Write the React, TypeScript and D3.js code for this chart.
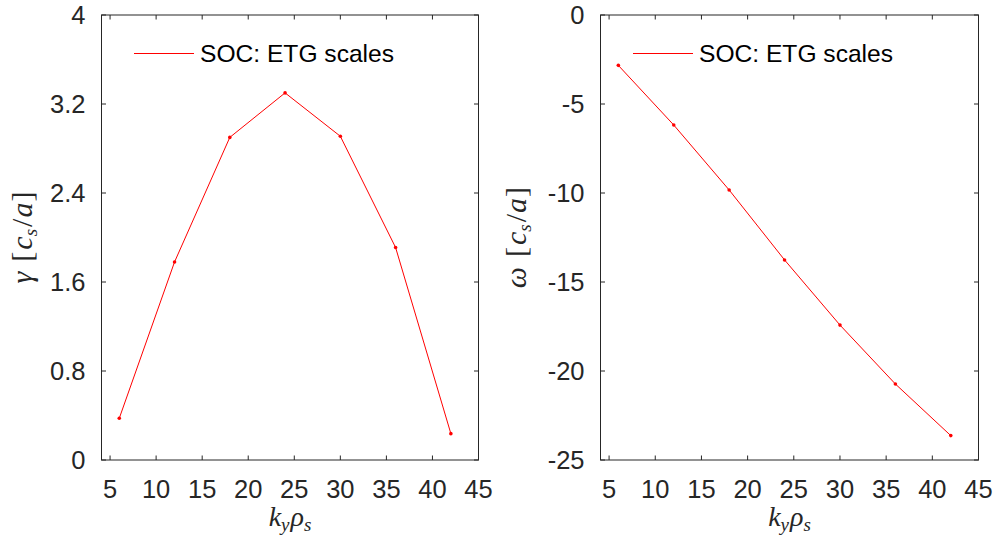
import React from "react";
import * as d3 from "d3";

const kyRho = [6, 12, 18, 24, 30, 36, 42];
const gamma = [0.375, 1.78, 2.9, 3.3, 2.91, 1.91, 0.237];
const omega = [-2.83, -6.18, -9.83, -13.76, -17.42, -20.73, -23.63];
const xTicks = [5, 10, 15, 20, 25, 30, 35, 40, 45];
const gammaTicks = [0, 0.8, 1.6, 2.4, 3.2, 4];
const omegaTicks = [-25, -20, -15, -10, -5, 0];
const legendLabel = "SOC: ETG scales";

const W = 995;
const H = 540;
const TOP = 15;
const BOTTOM = 460;
const AXIS_COLOR = "#262626";
const FONT = "'Liberation Sans', Arial, Helvetica, sans-serif";
const MATH = "'Liberation Serif', 'DejaVu Serif', serif";

type PanelProps = {
  left: number;
  right: number;
  values: number[];
  yDomain: [number, number];
  yTicks: number[];
  yFmt: (v: number) => string;
  ySymbol: string;
  yLabelX: number;
  legendX: number;
};

function Panel({ left, right, values, yDomain, yTicks, yFmt, ySymbol, yLabelX, legendX }: PanelProps) {
  const x = d3.scaleLinear().domain([4.07, 45]).range([left, right]);
  const y = d3.scaleLinear().domain(yDomain).range([BOTTOM, TOP]);
  const pts = kyRho.map((k, i) => [x(k), y(values[i])] as [number, number]);
  const line = d3.line()(pts) || "";
  const tl = 4.5;
  const midY = (TOP + BOTTOM) / 2;
  const midX = (left + right) / 2;
  return (
    <g>
      <rect x={left} y={TOP} width={right - left} height={BOTTOM - TOP} fill="white" stroke={AXIS_COLOR} strokeWidth={1} />
      {xTicks.map((t) => (
        <g key={"x" + t}>
          <line x1={x(t)} x2={x(t)} y1={BOTTOM} y2={BOTTOM - tl} stroke={AXIS_COLOR} />
          <line x1={x(t)} x2={x(t)} y1={TOP} y2={TOP + tl} stroke={AXIS_COLOR} />
          <text x={x(t)} y={497.5} textAnchor="middle" fontFamily={FONT} fontSize={25.5} fill="#262626">
            {t}
          </text>
        </g>
      ))}
      {yTicks.map((t) => (
        <g key={"y" + t}>
          <line x1={left} x2={left + tl} y1={y(t)} y2={y(t)} stroke={AXIS_COLOR} />
          <line x1={right} x2={right - tl} y1={y(t)} y2={y(t)} stroke={AXIS_COLOR} />
          <text x={left - 16} y={y(t)} dy="0.36em" textAnchor="end" fontFamily={FONT} fontSize={25.5} fill="#262626">
            {yFmt(t)}
          </text>
        </g>
      ))}
      <path d={line} fill="none" stroke="#ff0000" strokeWidth={1} />
      {pts.map((p, i) => (
        <circle key={i} cx={p[0]} cy={p[1]} r={1.8} fill="#ff0000" />
      ))}
      <line x1={legendX} x2={legendX + 60} y1={53.5} y2={53.5} stroke="#ff0000" strokeWidth={1} />
      <text x={legendX + 66} y={53.5} dy="0.36em" fontFamily={FONT} fontSize={24.6} fill="#000">
        {legendLabel}
      </text>
      <text x={midX} y={526} textAnchor="middle" fontFamily={MATH} fontSize={28} fill="#262626" fontStyle="italic">
        k<tspan fontSize={19} dy={5}>y</tspan>
        <tspan dy={-5} dx={1}>ρ</tspan>
        <tspan fontSize={19} dy={5}>s</tspan>
      </text>
      <text
        transform={`translate(${yLabelX},${midY}) rotate(-90)`}
        textAnchor="middle"
        fontFamily={MATH}
        fontSize={30}
        fill="#262626"
      >
        <tspan fontStyle="italic">{ySymbol}</tspan>
        <tspan dx={10}>[</tspan>
        <tspan fontStyle="italic" dx={2}>c</tspan>
        <tspan fontSize={19} dy={5} fontStyle="italic">s</tspan>
        <tspan dy={-5} dx={2}>/</tspan>
        <tspan fontStyle="italic" dx={1}>a</tspan>
        <tspan dx={1}>]</tspan>
      </text>
    </g>
  );
}

export default function App() {
  return (
    <svg width={W} height={H} style={{ position: "absolute", left: 0, top: 0, background: "white" }}>
      <rect width={W} height={H} fill="white" />
      <Panel
        left={101.5}
        right={478.5}
        values={gamma}
        yDomain={[0, 4]}
        yTicks={gammaTicks}
        yFmt={(v) => (v === 0 || v === 4 ? String(v) : v.toFixed(1))}
        ySymbol="γ"
        yLabelX={32}
        legendX={134}
      />
      <Panel
        left={600.5}
        right={978.5}
        values={omega}
        yDomain={[-25, 0]}
        yTicks={omegaTicks}
        yFmt={(v) => String(v)}
        ySymbol="ω"
        yLabelX={526}
        legendX={633}
      />
    </svg>
  );
}
